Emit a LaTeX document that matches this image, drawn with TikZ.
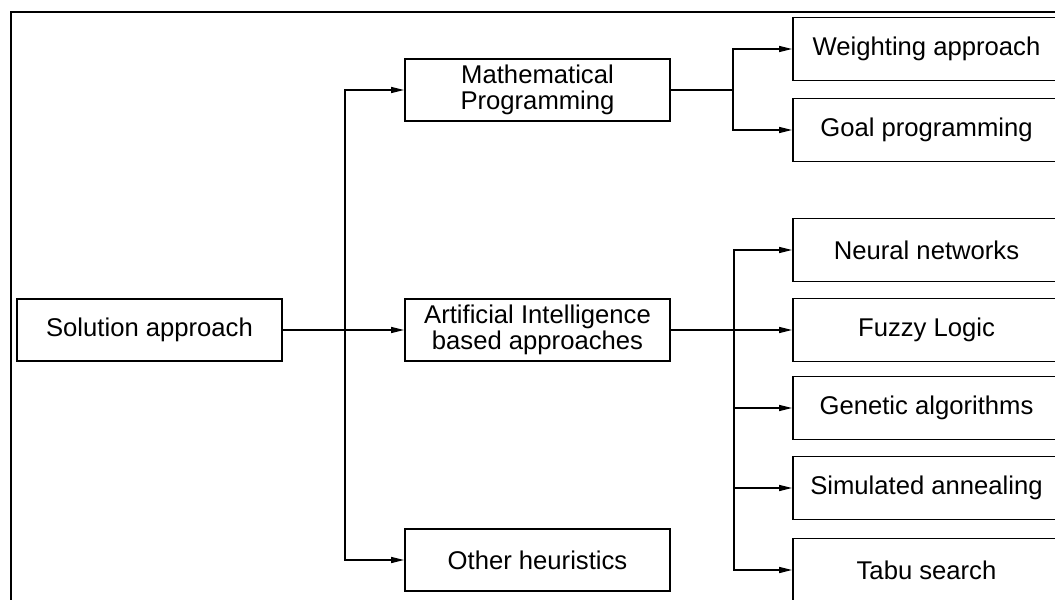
\documentclass[tikz,border=0pt]{standalone}
\usepackage{fontspec}
\setmainfont{Liberation Sans}
\usetikzlibrary{arrows.meta, positioning}

\begin{document}
\begin{tikzpicture}[x=0.02cm, y=-0.02cm, font=\fontsize{14.6pt}{15.2pt}\selectfont]
      % Styles for boxes and connectors
      \tikzset{box/.style={draw, line width=0.9pt, inner sep=0pt, align=center, minimum width=5.3cm, minimum height=1.24cm}}
      \tikzset{leaf/.style={box, minimum width=5.34cm, minimum height=1.26cm}}
      \tikzset{arr/.style={line width=0.9pt, -{Triangle[length=7.5pt, width=3.4pt]}}}
      \tikzset{link/.style={line width=0.9pt}}

      % Page and frame
      \useasboundingbox (0,0) rectangle (1055,599);
      \clip (0,0) rectangle (1055,599);
      \draw[line width=1.1pt] (11,12) rectangle (1080,620);

      % --- Root and first level ---
      \node[box] (sol) at (149.5,330) {Solution approach};
      \node[box] (mp)  at (537.5,90)  {Mathematical\\Programming};
      \node[box] (ai)  at (537.5,330) {Artificial Intelligence\\based approaches};
      \node[box] (oth) at (537.5,560) {Other heuristics};

      % --- Second level ---
      \node[leaf] (wa) at (926.5,49)  {Weighting approach};
      \node[leaf] (gp) at (926.5,130) {Goal programming};
      \node[leaf] (nn) at (926.5,250) {Neural networks};
      \node[leaf] (fl) at (926.5,330) {Fuzzy Logic};
      \node[leaf] (ga) at (926.5,408) {Genetic algorithms};
      \node[leaf] (sa) at (926.5,488) {Simulated annealing};
      \node[leaf] (ts) at (926.5,570) {Tabu search};

      % Junctions
      \coordinate (j1) at (345,330);
      \coordinate (j2) at (733,90);
      \coordinate (j3) at (734,330);

      % Solution approach -> first level
      \draw[arr] (sol.east) -- (ai.west);
      \draw[arr] (j1) |- (mp.west);
      \draw[arr] (j1) |- (oth.west);

      % Mathematical programming -> methods
      \draw[link] (mp.east) -- (j2);
      \draw[arr] (j2) |- (wa.west);
      \draw[arr] (j2) |- (gp.west);

      % AI based approaches -> methods
      \draw[arr] (ai.east) -- (fl.west);
      \draw[arr] (j3) |- (nn.west);
      \draw[arr] (j3) |- (ga.west);
      \draw[arr] (j3) |- (sa.west);
      \draw[arr] (j3) |- (ts.west);
    \end{tikzpicture}
\end{document}
